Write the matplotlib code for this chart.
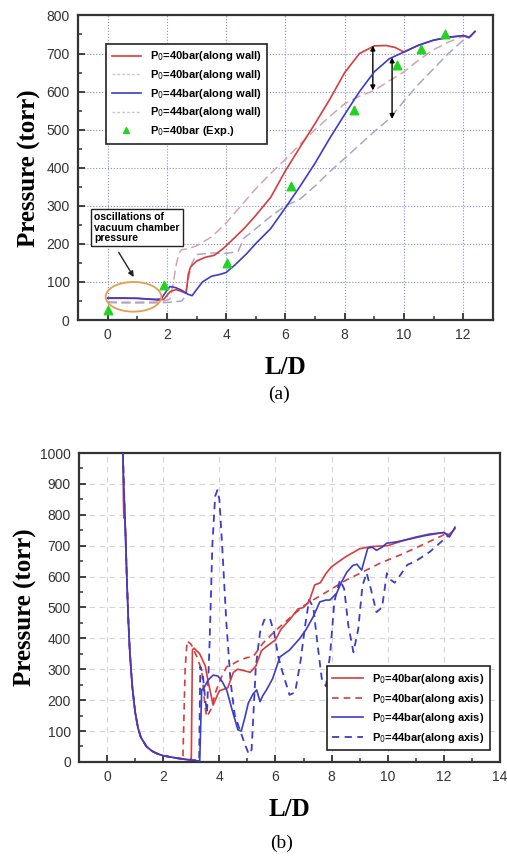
import matplotlib
matplotlib.use("Agg")
import matplotlib.pyplot as plt
from matplotlib.patches import Ellipse
from matplotlib.lines import Line2D
from matplotlib.ticker import MultipleLocator

# ---------------- Panel (a) data: along wall ----------------
red_wall_x = [0, 0.5, 1.0, 1.5, 1.7, 1.9, 2.1, 2.3, 2.5, 2.65, 2.72, 2.8, 3.0, 3.3, 3.6, 3.9, 4.2,
              4.6, 5.0, 5.5, 6.0, 6.5, 7.0, 7.5, 8.0, 8.5, 9.0, 9.4, 9.7, 10.0, 10.5, 11.0, 11.5,
              12.0, 12.2, 12.4]
red_wall_y = [57, 57, 57, 55, 52, 55, 74, 80, 75, 70, 120, 140, 155, 165, 170, 188, 210,
              240, 275, 322, 392, 455, 516, 580, 650, 700, 720, 721, 716, 704, 722, 735, 742,
              747, 742, 758]

blue_wall_x = [0, 0.5, 1.0, 1.5, 1.8, 2.0, 2.1, 2.3, 2.5, 2.7, 2.85, 3.0, 3.2, 3.5, 3.8, 4.0,
               4.3, 4.7, 5.0, 5.5, 6.0, 6.5, 7.0, 7.5, 8.0, 8.5, 9.0, 9.5, 10.0, 10.5, 11.0,
               11.5, 12.0, 12.2, 12.4]
blue_wall_y = [58, 58, 57, 54, 55, 78, 88, 85, 78, 68, 64, 80, 100, 115, 120, 125,
               145, 175, 201, 240, 295, 352, 412, 478, 540, 600, 652, 686, 704, 722, 735,
               743, 747, 742, 758]

g40_wall_x = [0, 0.5, 1.0, 1.5, 1.8, 2.0, 2.1, 2.2, 2.3, 2.4, 2.5, 2.7, 3.0, 3.5, 4.0, 4.5,
              5.0, 5.5, 6.0, 6.5, 7.0, 7.5, 8.0, 8.5, 9.0, 9.5, 10.0, 10.5, 11.0, 11.5, 12.0,
              12.3]
g40_wall_y = [48, 47, 47, 47, 48, 52, 55, 90, 140, 175, 185, 187, 195, 218, 255, 300,
              345, 385, 422, 462, 500, 535, 568, 588, 603, 628, 652, 683, 710, 730, 745,
              750]

g44_wall_x = [0, 0.5, 1.0, 1.5, 2.0, 2.5, 2.6, 2.7, 2.85, 3.0, 3.5, 4.0, 4.4, 4.6, 5.0, 5.5,
              6.0, 6.5, 7.0, 7.5, 8.0, 8.5, 9.0, 9.5, 10.0, 10.5, 11.0, 11.5, 12.0, 12.3]
g44_wall_y = [46, 45, 45, 45, 46, 50, 60, 100, 150, 172, 176, 175, 180, 215, 240, 272,
              300, 318, 352, 390, 425, 460, 495, 528, 575, 620, 660, 700, 735, 748]

exp_x = [0, 1.9, 4.02, 6.18, 8.32, 9.75, 10.57, 11.4]
exp_y = [26, 92, 151, 351, 551, 671, 711, 750]

# ---------------- Panel (b) data: along axis ----------------
red_axis_x = [0.56, 0.58, 0.6, 0.62, 0.65, 0.7, 0.75, 0.8, 0.85, 0.9, 1.0, 1.1, 1.2, 1.4, 1.6,
              1.8, 2.0, 2.5, 3.0, 3.04, 3.1, 3.3, 3.5, 3.6, 3.78, 3.9, 4.0, 4.3, 4.5, 4.65,
              4.9, 5.1, 5.3, 5.5, 5.7, 6.0, 6.2, 6.5, 6.8, 7.0, 7.2, 7.4, 7.6, 7.8, 8.0, 8.5,
              9.0, 9.4, 10.0, 10.5, 11.0, 11.5, 12.0, 12.2, 12.4]
red_axis_y = [1000, 850, 790, 795, 750, 600, 470, 370, 300, 240, 160, 110, 80, 50, 35,
              26, 20, 12, 5, 363, 368, 350, 310, 260, 184, 210, 230, 240, 290, 300,
              295, 290, 310, 360, 375, 395, 430, 460, 495, 500, 520, 573, 580, 610, 632, 664,
              690, 697, 700, 715, 728, 738, 742, 735, 755]

red_axisd_x = [0.56, 0.6, 0.65, 0.7, 0.75, 0.8, 0.85, 0.9, 1.0, 1.1, 1.2, 1.4, 1.6, 1.8, 2.0,
               2.5, 2.7, 2.78, 2.85, 3.0, 3.2, 3.37, 3.49, 3.55, 3.7, 3.85, 4.05, 4.26, 4.5,
               4.73, 5.0, 5.2, 5.56, 6.0, 6.5, 7.0, 7.34, 8.0, 8.53, 9.0, 9.72, 10.5, 11.1,
               11.6, 12.0, 12.2]
red_axisd_y = [1000, 880, 750, 600, 470, 370, 300, 240, 160, 110, 80, 50, 35, 26, 20,
               12, 9, 300, 392, 380, 340, 297, 179, 146, 170, 222, 270, 308, 318,
               330, 338, 340, 385, 425, 465, 505, 524, 560, 589, 610, 643, 672, 697,
               718, 735, 740]

blue_axis_x = [0.56, 0.6, 0.65, 0.7, 0.75, 0.8, 0.85, 0.9, 1.0, 1.1, 1.2, 1.4, 1.6, 1.8, 2.0,
               2.5, 3.0, 3.3, 3.37, 3.45, 3.6, 3.78, 3.95, 4.1, 4.26, 4.45, 4.66, 4.78, 4.9,
               5.03, 5.2, 5.33, 5.45, 5.55, 5.68, 5.9, 6.16, 6.5, 6.87, 7.1, 7.34, 7.58, 7.8,
               7.94, 8.18, 8.36, 8.55, 8.76, 8.9, 9.07, 9.29, 9.45, 9.6, 9.8, 9.96, 10.3,
               10.8, 11.3, 11.8, 12.0, 12.2, 12.4]
blue_axis_y = [1000, 880, 750, 600, 470, 370, 300, 240, 160, 110, 80, 50, 35, 26, 20,
               12, 6, 3, 233, 240, 265, 281, 278, 260, 233, 170, 104, 100, 140,
               190, 220, 233, 195, 215, 233, 270, 340, 362, 400, 430, 469, 518, 524,
               524, 546, 583, 615, 636, 640, 621, 692, 695, 685, 695, 708, 712,
               722, 732, 740, 743, 728, 760]

blue_axisd_x = [0.56, 0.6, 0.65, 0.7, 0.75, 0.8, 0.85, 0.9, 1.0, 1.1, 1.2, 1.4, 1.6, 1.8, 2.0,
                2.5, 3.0, 3.28, 3.32, 3.4, 3.5, 3.56, 3.65, 3.75, 3.85, 3.93, 4.0, 4.1, 4.25,
                4.4, 4.55, 4.73, 4.9, 5.05, 5.15, 5.3, 5.45, 5.6, 5.8, 5.95, 6.1, 6.26, 6.5,
                6.7, 6.9, 7.05, 7.2, 7.35, 7.5, 7.65, 7.8, 7.95, 8.1, 8.3, 8.45, 8.6, 8.78,
                8.95, 9.1, 9.25, 9.4, 9.6, 9.8, 9.97, 10.1, 10.25, 10.45, 10.7, 11.0, 11.5,
                12.0, 12.3]
blue_axisd_y = [1000, 880, 750, 600, 470, 370, 300, 240, 160, 110, 80, 50, 35, 26, 20,
                12, 6, 5, 308, 290, 200, 160, 380, 700, 860, 880, 850, 700, 450,
                260, 150, 104, 60, 25, 40, 308, 420, 460, 465, 420, 340, 288, 217,
                225, 330, 437, 525, 500, 380, 270, 245, 350, 520, 589, 560, 440, 355,
                430, 570, 612, 560, 485, 500, 611, 590, 580, 605, 638, 650, 680,
                720, 745]

RED = '#d83c3c'
BLUE = '#3c3cc8'
G40 = '#cfa6b0'
G44 = '#a9a6c6'
GREEN = '#22d422'

plt.rcParams['font.family'] = ['Liberation Sans', 'DejaVu Sans']

fig = plt.figure(figsize=(5.07, 8.58), dpi=100)

def style_axes(ax, xmaj, ymaj, gridcolor, gridls):
    for s in ax.spines.values():
        s.set_linewidth(1.6)
        s.set_color('#333333')
    ax.xaxis.set_major_locator(MultipleLocator(xmaj))
    ax.xaxis.set_minor_locator(MultipleLocator(xmaj / 2))
    ax.yaxis.set_major_locator(MultipleLocator(ymaj))
    ax.yaxis.set_minor_locator(MultipleLocator(ymaj / 2))
    ax.tick_params(which='major', direction='in', length=5, width=1.3, labelsize=10,
                   colors='#333333', pad=6)
    ax.tick_params(which='minor', direction='in', length=3, width=1.1, colors='#333333')
    ax.grid(True, which='major', color=gridcolor, linestyle=gridls, linewidth=0.8)
    ax.set_axisbelow(True)

# ---------------- Panel (a) ----------------
ax1 = fig.add_axes([0.154, 0.627, 0.818, 0.355])
style_axes(ax1, 2, 100, '#8c8cd0', ':')
ax1.plot(g40_wall_x, g40_wall_y, color=G40, lw=1.1, ls=(0, (6, 3)), zorder=2)
ax1.plot(g44_wall_x, g44_wall_y, color=G44, lw=1.1, ls=(0, (6, 3)), zorder=2)
ax1.plot(red_wall_x, red_wall_y, color=RED, lw=1.2, zorder=3)
ax1.plot(blue_wall_x, blue_wall_y, color=BLUE, lw=1.2, zorder=4)
ax1.scatter(exp_x, exp_y, marker='^', s=38, color=GREEN, zorder=5)
ax1.set_xlim(-1, 13)
ax1.set_ylim(0, 800)

h_a = [Line2D([], [], color=RED, lw=1.2),
       Line2D([], [], color='#c8c8c8', lw=1.0, ls=(0, (2, 1.5))),
       Line2D([], [], color=BLUE, lw=1.2),
       Line2D([], [], color='#c8c8c8', lw=1.0, ls=(0, (2, 1.5))),
       Line2D([], [], color=GREEN, marker='^', ls='none', markersize=5)]
l_a = [r'P$_0$=40bar(along wall)', r'P$_0$=40bar(along wall)', r'P$_0$=44bar(along wall)',
       r'P$_0$=44bar(along wall)', r'P$_0$=40bar (Exp.)']
leg = ax1.legend(h_a, l_a, loc='upper left', bbox_to_anchor=(0.055, 0.925),
                 prop={'weight': 'bold', 'size': 8}, frameon=True, fancybox=False,
                 edgecolor='#222222', handlelength=2.6, borderpad=0.5, labelspacing=0.42,
                 framealpha=1)
leg.get_frame().set_linewidth(1.2)

ax1.annotate('', xy=(8.95, 721), xytext=(8.95, 603),
             arrowprops=dict(arrowstyle='<|-|>', color='black', lw=1.0,
                             mutation_scale=7, shrinkA=0, shrinkB=0))
ax1.annotate('', xy=(9.6, 690), xytext=(9.6, 528),
             arrowprops=dict(arrowstyle='<|-|>', color='black', lw=1.0,
                             mutation_scale=7, shrinkA=0, shrinkB=0))

ax1.add_patch(Ellipse((0.87, 61), 1.88, 78, fill=False, edgecolor='#e0a050', lw=1.3, zorder=6))
ax1.text(-0.45, 283, 'oscillations of\nvacuum chamber\npressure', fontsize=7.5,
         fontweight='bold', va='top', ha='left', linespacing=1.05,
         bbox=dict(boxstyle='square,pad=0.3', facecolor='white', edgecolor='#222222', lw=1.0))
ax1.annotate('', xy=(0.88, 113), xytext=(0.37, 178),
             arrowprops=dict(arrowstyle='-|>', color='#222222', lw=1.0, mutation_scale=8,
                             shrinkA=0, shrinkB=0))

ax1.set_xlabel('L/D', family='Liberation Serif', fontweight='bold', fontsize=18, labelpad=10)
ax1.set_ylabel('Pressure (torr)', family='Liberation Serif', fontweight='bold', fontsize=18,
               labelpad=4)
fig.text(0.55, 1 - 394 / 858, '(a)', family='Liberation Serif', fontsize=14,
         ha='center', va='center')

# ---------------- Panel (b) ----------------
ax2 = fig.add_axes([0.156, 0.112, 0.830, 0.360])
style_axes(ax2, 2, 100, '#d4d4d4', (0, (5, 4)))
ax2.plot(red_axis_x, red_axis_y, color=RED, lw=1.2, label=r'P$_0$=40bar(along axis)', zorder=3)
ax2.plot(red_axisd_x, red_axisd_y, color=RED, lw=1.2, ls=(0, (4, 3)),
         label=r'P$_0$=40bar(along axis)', zorder=2)
ax2.plot(blue_axis_x, blue_axis_y, color=BLUE, lw=1.2, label=r'P$_0$=44bar(along axis)', zorder=4)
ax2.plot(blue_axisd_x, blue_axisd_y, color=BLUE, lw=1.3, ls=(0, (4, 3)),
         label=r'P$_0$=44bar(along axis)', zorder=2)
ax2.set_xlim(-1, 14)
ax2.set_ylim(0, 1000)
leg2 = ax2.legend(loc='lower right', bbox_to_anchor=(0.99, 0.02),
                  prop={'weight': 'bold', 'size': 8}, frameon=True, fancybox=False,
                  edgecolor='#222222', handlelength=2.8, borderpad=0.5, labelspacing=0.5,
                  framealpha=1)
leg2.get_frame().set_linewidth(1.2)
ax2.set_xlabel('L/D', family='Liberation Serif', fontweight='bold', fontsize=18, labelpad=10)
ax2.set_ylabel('Pressure (torr)', family='Liberation Serif', fontweight='bold', fontsize=18,
               labelpad=2)
fig.text(0.556, 1 - 843 / 858, '(b)', family='Liberation Serif', fontsize=14,
         ha='center', va='center')

fig.savefig('out.png', dpi=100)
